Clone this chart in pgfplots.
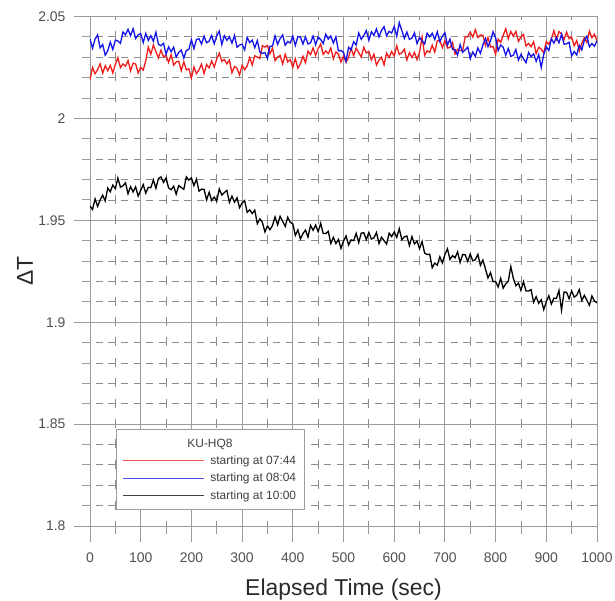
\documentclass[border=0pt]{standalone}
\usepackage{pgfplots}
\pgfplotsset{compat=1.18}
\usepackage{fontspec}
\setmainfont{Liberation Sans}
\definecolor{gridc}{HTML}{9C9C9C}
\definecolor{mgridc}{HTML}{8C8C8C}
\definecolor{tickc}{HTML}{505050}
\definecolor{labc}{HTML}{2A2A2A}
\definecolor{redc}{HTML}{EE1C1C}
\definecolor{bluec}{HTML}{1414E6}
\begin{document}
\begin{tikzpicture}
\begin{axis}[
  scale only axis, width=507bp, height=509.5bp,
  xmin=0, xmax=1000, ymin=1.8, ymax=2.05,
  xtick={0,100,200,300,400,500,600,700,800,900,1000},
  xticklabels={0,100,200,300,400,500,600,700,800,900,1000},
  ytick={1.8,1.85,1.9,1.95,2,2.05},
  yticklabels={1.8,1.85,1.9,1.95,2,2.05},
  minor xtick={50,150,250,350,450,550,650,750,850,950},
  minor ytick={1.81,1.82,1.83,1.84,1.86,1.87,1.88,1.89,1.91,1.92,1.93,1.94,1.96,1.97,1.98,1.99,2.01,2.02,2.03,2.04},
  grid=both,
  major grid style={gridc, line width=0.9bp, solid},
  minor x grid style={mgridc, line width=0.8bp, dash pattern=on 9bp off 11.4bp, dash phase=4bp},
  minor y grid style={mgridc, line width=0.8bp, dash pattern=on 7bp off 5.675bp, dash phase=-5.675bp},
  axis line style={gridc, line width=0.9bp},
  tick align=outside,
  major tick length=16bp, minor tick length=8bp,
  every tick/.style={gridc, line width=0.9bp},
  xtick pos=bottom, ytick pos=left,
  /pgf/number format/assume math mode=true,
  ticklabel style={font=\fontsize{14}{16}\selectfont, text=tickc},
  xticklabel style={yshift=-7bp},
  yticklabel style={xshift=-5bp},
  xlabel={Elapsed Time (sec)},
  ylabel={ΔT},
  every axis x label/.style={at={(axis description cs:0.5,-0.1255)}, anchor=center, font=\fontsize{23}{26}\selectfont, text=labc},
  every axis y label/.style={at={(axis description cs:-0.128,0.5)}, anchor=center, rotate=90, font=\fontsize{23}{26}\selectfont, text=labc},
  legend style={at={(axis description cs:0.0513,0.0314)}, anchor=south west, draw=gridc, line width=0.8bp, fill=white,
    font=\fontsize{12}{13.5}\selectfont, text=black!75, row sep=3.2bp, column sep=4bp, inner xsep=6bp, inner ysep=7bp,
    nodes={inner sep=2bp}},
  legend cell align=left,
  legend image code/.code={\draw[#1, line width=1bp, opacity=0.75] (0bp,0bp) -- (81bp,0bp);},
]
\addlegendimage{empty legend}
\addlegendentry{\hspace*{-23bp}KU-HQ8}
\addplot[redc, line width=1.3bp] coordinates {
(0,2.0190) (5,2.0250) (10,2.0219) (15,2.0239) (20,2.0268) (25,2.0222) (30,2.0258) (35,2.0234) (40,2.0260) (45,2.0223)
(50,2.0265) (55,2.0298) (60,2.0249) (65,2.0267) (70,2.0256) (75,2.0284) (80,2.0233) (85,2.0271) (90,2.0267) (95,2.0223)
(100,2.0250) (105,2.0237) (110,2.0283) (115,2.0350) (120,2.0315) (125,2.0360) (130,2.0328) (135,2.0297) (140,2.0335) (145,2.0302)
(150,2.0310) (155,2.0275) (160,2.0313) (165,2.0261) (170,2.0277) (175,2.0281) (180,2.0234) (185,2.0278) (190,2.0238) (195,2.0243)
(200,2.0198) (205,2.0252) (210,2.0220) (215,2.0238) (220,2.0266) (225,2.0220) (230,2.0264) (235,2.0248) (240,2.0282) (245,2.0252)
(250,2.0291) (255,2.0320) (260,2.0280) (265,2.0289) (270,2.0267) (275,2.0286) (280,2.0224) (285,2.0255) (290,2.0246) (295,2.0213)
(300,2.0261) (305,2.0239) (310,2.0257) (315,2.0298) (320,2.0262) (325,2.0307) (330,2.0301) (335,2.0294) (340,2.0357) (345,2.0350)
(350,2.0358) (355,2.0317) (360,2.0345) (365,2.0283) (370,2.0301) (375,2.0309) (380,2.0267) (385,2.0315) (390,2.0277) (395,2.0289)
(400,2.0251) (405,2.0293) (410,2.0246) (415,2.0268) (420,2.0305) (425,2.0273) (430,2.0330) (435,2.0313) (440,2.0346) (445,2.0309)
(450,2.0342) (455,2.0365) (460,2.0314) (465,2.0331) (470,2.0318) (475,2.0345) (480,2.0292) (485,2.0326) (490,2.0316) (495,2.0276)
(500,2.0306) (505,2.0276) (510,2.0300) (515,2.0344) (520,2.0308) (525,2.0345) (530,2.0323) (535,2.0301) (540,2.0349) (545,2.0321)
(550,2.0329) (555,2.0287) (560,2.0315) (565,2.0262) (570,2.0286) (575,2.0300) (580,2.0263) (585,2.0320) (590,2.0299) (595,2.0328)
(600,2.0306) (605,2.0356) (610,2.0314) (615,2.0322) (620,2.0340) (625,2.0287) (630,2.0322) (635,2.0298) (640,2.0324) (645,2.0288)
(650,2.0325) (655,2.0400) (660,2.0309) (665,2.0332) (670,2.0324) (675,2.0359) (680,2.0325) (685,2.0381) (690,2.0383) (695,2.0347)
(700,2.0381) (705,2.0345) (710,2.0348) (715,2.0372) (720,2.0316) (725,2.0339) (730,2.0333) (735,2.0332) (740,2.0401) (745,2.0400)
(750,2.0424) (755,2.0399) (760,2.0435) (765,2.0397) (770,2.0409) (775,2.0408) (780,2.0358) (785,2.0397) (790,2.0350) (795,2.0353)
(800,2.0315) (805,2.0389) (810,2.0373) (815,2.0407) (820,2.0440) (825,2.0391) (830,2.0427) (835,2.0403) (840,2.0427) (845,2.0378)
(850,2.0400) (855,2.0412) (860,2.0355) (865,2.0368) (870,2.0352) (875,2.0376) (880,2.0318) (885,2.0349) (890,2.0340) (895,2.0321)
(900,2.0377) (905,2.0364) (910,2.0390) (915,2.0430) (920,2.0388) (925,2.0426) (930,2.0414) (935,2.0386) (940,2.0423) (945,2.0391)
(950,2.0399) (955,2.0356) (960,2.0382) (965,2.0331) (970,2.0368) (975,2.0396) (980,2.0373) (985,2.0428) (990,2.0396) (995,2.0413)
(1000,2.0380)
};
\addlegendentry{starting at 07:44}
\addplot[bluec, line width=1.3bp] coordinates {
(0,2.0389) (5,2.0344) (10,2.0389) (15,2.0410) (20,2.0346) (25,2.0363) (30,2.0310) (35,2.0332) (40,2.0375) (45,2.0338)
(50,2.0384) (55,2.0380) (60,2.0368) (65,2.0424) (70,2.0410) (75,2.0437) (80,2.0406) (85,2.0440) (90,2.0392) (95,2.0410)
(100,2.0416) (105,2.0372) (110,2.0417) (115,2.0383) (120,2.0406) (125,2.0378) (130,2.0423) (135,2.0364) (140,2.0356) (145,2.0369)
(150,2.0315) (155,2.0351) (160,2.0327) (165,2.0349) (170,2.0301) (175,2.0323) (180,2.0335) (185,2.0296) (190,2.0333) (195,2.0339)
(200,2.0386) (205,2.0342) (210,2.0387) (215,2.0391) (220,2.0365) (225,2.0403) (230,2.0371) (235,2.0379) (240,2.0407) (245,2.0366)
(250,2.0405) (255,2.0428) (260,2.0362) (265,2.0406) (270,2.0383) (275,2.0401) (280,2.0369) (285,2.0407) (290,2.0349) (295,2.0360)
(300,2.0364) (305,2.0336) (310,2.0398) (315,2.0372) (320,2.0384) (325,2.0347) (330,2.0382) (335,2.0326) (340,2.0319) (345,2.0323)
(350,2.0294) (355,2.0354) (360,2.0355) (365,2.0405) (370,2.0363) (375,2.0392) (380,2.0410) (385,2.0359) (390,2.0377) (395,2.0370)
(400,2.0404) (405,2.0358) (410,2.0402) (415,2.0399) (420,2.0365) (425,2.0400) (430,2.0365) (435,2.0371) (440,2.0404) (445,2.0361)
(450,2.0399) (455,2.0387) (460,2.0367) (465,2.0413) (470,2.0389) (475,2.0404) (480,2.0370) (485,2.0400) (490,2.0331) (495,2.0333)
(500,2.0324) (505,2.0280) (510,2.0349) (515,2.0337) (520,2.0376) (525,2.0360) (530,2.0419) (535,2.0388) (540,2.0407) (545,2.0431)
(550,2.0383) (555,2.0425) (560,2.0407) (565,2.0439) (570,2.0400) (575,2.0432) (580,2.0450) (585,2.0405) (590,2.0427) (595,2.0419)
(600,2.0451) (605,2.0403) (610,2.0470) (615,2.0431) (620,2.0393) (625,2.0424) (630,2.0388) (635,2.0394) (640,2.0420) (645,2.0367)
(650,2.0397) (655,2.0381) (660,2.0365) (665,2.0418) (670,2.0400) (675,2.0418) (680,2.0387) (685,2.0425) (690,2.0377) (695,2.0403)
(700,2.0420) (705,2.0360) (710,2.0389) (715,2.0339) (720,2.0338) (725,2.0310) (730,2.0362) (735,2.0324) (740,2.0336) (745,2.0350)
(750,2.0293) (755,2.0326) (760,2.0304) (765,2.0346) (770,2.0319) (775,2.0361) (780,2.0393) (785,2.0352) (790,2.0381) (795,2.0425)
(800,2.0396) (805,2.0333) (810,2.0360) (815,2.0349) (820,2.0310) (825,2.0343) (830,2.0304) (835,2.0310) (840,2.0338) (845,2.0286)
(850,2.0314) (855,2.0293) (860,2.0273) (865,2.0323) (870,2.0303) (875,2.0317) (880,2.0280) (885,2.0313) (890,2.0250) (895,2.0315)
(900,2.0351) (905,2.0333) (910,2.0391) (915,2.0369) (920,2.0397) (925,2.0371) (930,2.0413) (935,2.0364) (940,2.0366) (945,2.0374)
(950,2.0306) (955,2.0328) (960,2.0311) (965,2.0359) (970,2.0336) (975,2.0384) (980,2.0404) (985,2.0351) (990,2.0368) (995,2.0354)
(1000,2.0381)
};
\addlegendentry{starting at 08:04}
\addplot[black, line width=1.3bp] coordinates {
(0,1.9570) (5,1.9553) (10,1.9605) (15,1.9568) (20,1.9600) (25,1.9623) (30,1.9595) (35,1.9658) (40,1.9640) (45,1.9673)
(50,1.9655) (55,1.9707) (60,1.9663) (65,1.9669) (70,1.9684) (75,1.9630) (80,1.9665) (85,1.9639) (90,1.9664) (95,1.9619)
(100,1.9647) (105,1.9675) (110,1.9633) (115,1.9662) (120,1.9660) (125,1.9698) (130,1.9657) (135,1.9705) (140,1.9713) (145,1.9686)
(150,1.9708) (155,1.9659) (160,1.9650) (165,1.9667) (170,1.9628) (175,1.9670) (180,1.9661) (185,1.9652) (190,1.9713) (195,1.9697)
(200,1.9708) (205,1.9670) (210,1.9702) (215,1.9643) (220,1.9653) (225,1.9652) (230,1.9600) (235,1.9638) (240,1.9597) (245,1.9614)
(250,1.9594) (255,1.9654) (260,1.9624) (265,1.9636) (270,1.9647) (275,1.9588) (280,1.9619) (285,1.9589) (290,1.9610) (295,1.9562)
(300,1.9585) (305,1.9597) (310,1.9539) (315,1.9551) (320,1.9533) (325,1.9550) (330,1.9483) (335,1.9507) (340,1.9490) (345,1.9443)
(350,1.9472) (355,1.9454) (360,1.9475) (365,1.9517) (370,1.9478) (375,1.9520) (380,1.9495) (385,1.9470) (390,1.9515) (395,1.9490)
(400,1.9483) (405,1.9426) (410,1.9453) (415,1.9409) (420,1.9435) (425,1.9452) (430,1.9418) (435,1.9475) (440,1.9451) (445,1.9477)
(450,1.9444) (455,1.9485) (460,1.9435) (465,1.9435) (470,1.9446) (475,1.9386) (480,1.9416) (485,1.9386) (490,1.9406) (495,1.9362)
(500,1.9398) (505,1.9423) (510,1.9379) (515,1.9404) (520,1.9400) (525,1.9436) (530,1.9391) (535,1.9437) (540,1.9439) (545,1.9405)
(550,1.9441) (555,1.9408) (560,1.9414) (565,1.9440) (570,1.9386) (575,1.9417) (580,1.9400) (585,1.9383) (590,1.9437) (595,1.9420)
(600,1.9443) (605,1.9416) (610,1.9459) (615,1.9405) (620,1.9419) (625,1.9423) (630,1.9376) (635,1.9420) (640,1.9384) (645,1.9398)
(650,1.9361) (655,1.9396) (660,1.9339) (665,1.9332) (670,1.9334) (675,1.9267) (680,1.9290) (685,1.9280) (690,1.9321) (695,1.9291)
(700,1.9332) (705,1.9360) (710,1.9308) (715,1.9327) (720,1.9316) (725,1.9345) (730,1.9293) (735,1.9332) (740,1.9331) (745,1.9298)
(750,1.9335) (755,1.9301) (760,1.9307) (765,1.9333) (770,1.9279) (775,1.9305) (780,1.9261) (785,1.9217) (790,1.9243) (795,1.9199)
(800,1.9200) (805,1.9173) (810,1.9215) (815,1.9167) (820,1.9189) (825,1.9201) (830,1.9273) (835,1.9215) (840,1.9179) (845,1.9192)
(850,1.9156) (855,1.9199) (860,1.9153) (865,1.9153) (870,1.9160) (875,1.9098) (880,1.9125) (885,1.9093) (890,1.9110) (895,1.9062)
(900,1.9101) (905,1.9130) (910,1.9089) (915,1.9118) (920,1.9117) (925,1.9156) (930,1.9059) (935,1.9148) (940,1.9147) (945,1.9115)
(950,1.9154) (955,1.9123) (960,1.9132) (965,1.9160) (970,1.9106) (975,1.9132) (980,1.9108) (985,1.9083) (990,1.9129) (995,1.9104)
(1000,1.9095)
};
\addlegendentry{starting at 10:00}
\end{axis}
\pgfresetboundingbox
\path[use as bounding box] (-90bp,-75bp) rectangle (525bp,526bp);
\end{tikzpicture}
\end{document}
